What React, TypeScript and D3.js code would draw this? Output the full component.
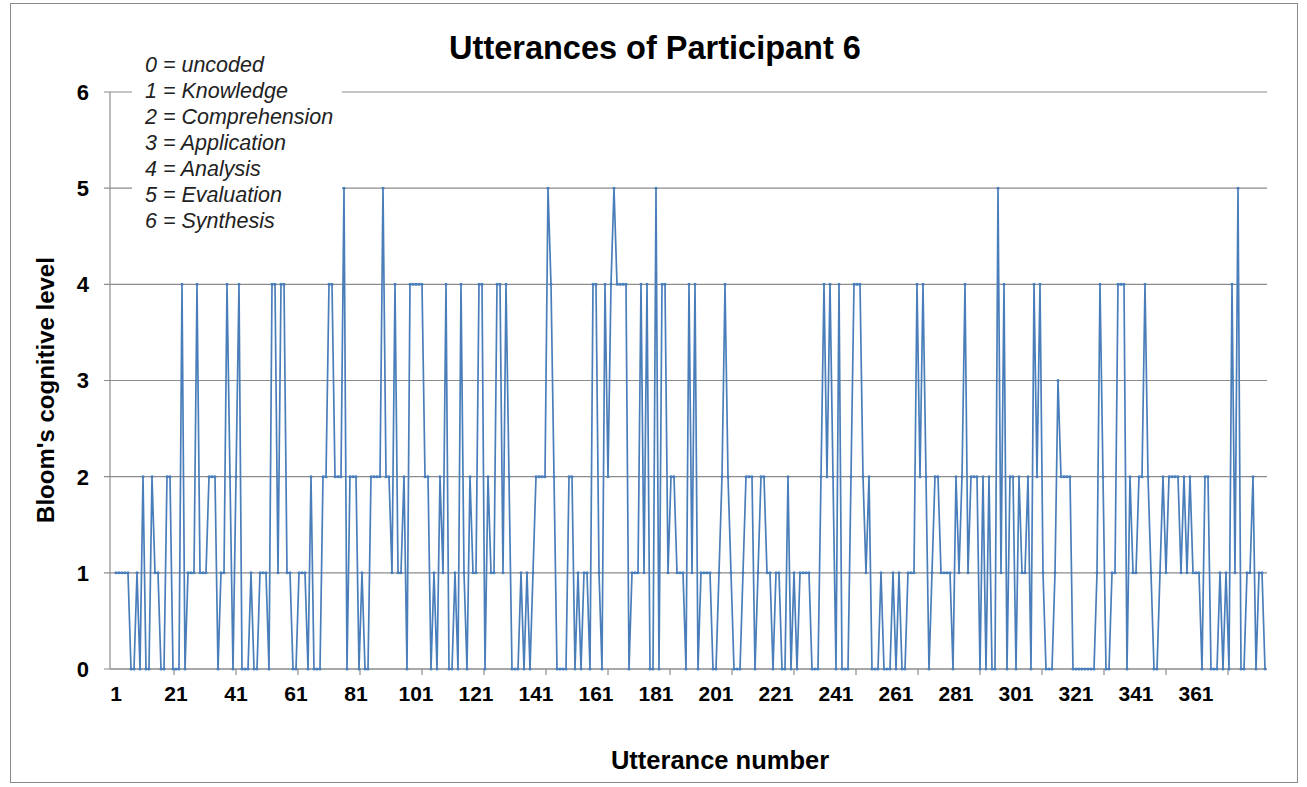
import React from 'react'
import * as d3 from 'd3'

// Bloom level per utterance in blocks
const levels001to100 = [
  1, 1, 1, 1, 1, 0, 0, 1, 0, 2,
  0, 0, 2, 1, 1, 0, 0, 2, 2, 0,
  0, 0, 4, 0, 1, 1, 1, 4, 1, 1,
  1, 2, 2, 2, 0, 1, 1, 4, 2, 0,
  2, 4, 0, 0, 0, 1, 0, 0, 1, 1,
  1, 0, 4, 4, 1, 4, 4, 1, 1, 0,
  0, 1, 1, 1, 0, 2, 0, 0, 0, 2,
  2, 4, 4, 2, 2, 2, 5, 0, 2, 2,
  2, 0, 1, 0, 0, 2, 2, 2, 2, 5,
  2, 2, 1, 4, 1, 1, 2, 0, 4, 4,
]
const levels101to200 = [
  4, 4, 4, 2, 2, 0, 1, 0, 2, 1,
  4, 0, 0, 1, 0, 4, 1, 0, 2, 1,
  1, 4, 4, 0, 2, 1, 1, 4, 4, 1,
  4, 2, 0, 0, 0, 1, 0, 1, 0, 1,
  2, 2, 2, 2, 5, 4, 2, 0, 0, 0,
  0, 2, 2, 0, 1, 0, 1, 1, 0, 4,
  4, 1, 0, 4, 2, 4, 5, 4, 4, 4,
  4, 0, 1, 1, 1, 4, 1, 4, 0, 0,
  5, 0, 4, 4, 1, 2, 2, 1, 1, 1,
  0, 4, 1, 4, 0, 1, 1, 1, 1, 0,
]
const levels201to300 = [
  0, 1, 2, 4, 2, 1, 0, 0, 0, 1,
  2, 2, 2, 0, 1, 2, 2, 1, 1, 0,
  1, 1, 0, 0, 2, 0, 1, 0, 1, 1,
  1, 1, 0, 0, 0, 2, 4, 2, 4, 2,
  0, 4, 0, 0, 0, 2, 4, 4, 4, 2,
  1, 2, 0, 0, 0, 1, 0, 0, 0, 1,
  0, 1, 0, 0, 1, 1, 1, 4, 2, 4,
  2, 0, 1, 2, 2, 1, 1, 1, 1, 0,
  2, 1, 2, 4, 1, 2, 2, 2, 0, 2,
  0, 2, 0, 0, 5, 1, 4, 0, 2, 2,
]
const levels301to384 = [
  0, 2, 1, 1, 2, 0, 4, 2, 4, 1,
  0, 0, 0, 1, 3, 2, 2, 2, 2, 0,
  0, 0, 0, 0, 0, 0, 0, 1, 4, 2,
  0, 0, 1, 1, 4, 4, 4, 0, 2, 1,
  1, 2, 2, 4, 2, 1, 0, 0, 1, 2,
  1, 2, 2, 2, 2, 1, 2, 1, 2, 1,
  1, 1, 0, 2, 2, 0, 0, 0, 1, 0,
  1, 0, 4, 1, 5, 0, 0, 1, 1, 2,
  0, 1, 1, 0,
]

const levelTicks = [0, 1, 2, 3, 4, 5, 6]
const utteranceLabels = [1, 21, 41, 61, 81, 101, 121, 141, 161, 181, 201, 221, 241, 261, 281, 301, 321, 341, 361]
const legendLines = [
  '0 = uncoded',
  '1 = Knowledge',
  '2 = Comprehension',
  '3 = Application',
  '4 = Analysis',
  '5 = Evaluation',
  '6 = Synthesis',
]

const levels = [...levels001to100, ...levels101to200, ...levels201to300, ...levels301to384]
const points = levels.map((v, i) => ({ n: i + 1, v }))

const W = 1307
const H = 787
const font = '"Liberation Sans", Arial, sans-serif'

export default function App () {
  const left = 110
  const right = 1267
  const top = 92
  const bottom = 669

  const x = d3.scaleLinear().domain([1, levels.length]).range([116, 1265])
  const y = d3.scaleLinear().domain([0, 6]).range([bottom, top])

  const line = d3.line<{ n: number, v: number }>()
    .x(d => x(d.n))
    .y(d => y(d.v))

  // tick marks sit between label groups
  const tickMarks = d3.range(0, 19).map(k => 174 + k * 62).filter(t => t < right)

  return (
    <svg width={W} height={H} style={{ position: 'absolute', left: 0, top: 0, background: '#fff' }}>
      <rect x={10.5} y={3.5} width={1287} height={779} fill="#fff" stroke="#8a8a8a" />

      {/* gridlines */}
      {levelTicks.map(t => (
        <line key={t} x1={left - 6} x2={right} y1={y(t)} y2={y(t)} stroke="#8c8c8c" strokeWidth={1.2} />
      ))}

      {/* axes */}
      <line x1={left} x2={left} y1={top} y2={bottom} stroke="#8c8c8c" strokeWidth={1.2} />
      <line x1={left} x2={right} y1={bottom} y2={bottom} stroke="#8c8c8c" strokeWidth={1.2} />
      {tickMarks.map(t => (
        <line key={t} x1={t} x2={t} y1={bottom} y2={bottom + 6} stroke="#8c8c8c" strokeWidth={1.2} />
      ))}

      {/* series */}
      <path d={line(points) ?? ''} fill="none" stroke="#4a7ebb" strokeWidth={1.7} strokeLinejoin="round" />
      {points.map(p => (
        <circle key={p.n} cx={x(p.n)} cy={y(p.v)} r={1.5} fill="#4a7ebb" />
      ))}

      {/* y labels */}
      {levelTicks.map(t => (
        <text key={t} x={89} y={y(t)} dy="0.36em" textAnchor="end" fontFamily={font} fontWeight="bold" fontSize={22}>{t}</text>
      ))}

      {/* x labels */}
      {utteranceLabels.map(n => (
        <text key={n} x={x(n)} y={701} textAnchor="middle" fontFamily={font} fontWeight="bold" fontSize={21}>{n}</text>
      ))}

      {/* legend box */}
      <rect x={132} y={50} width={210} height={186} fill="#fff" />
      {legendLines.map((s, i) => (
        <text key={s} x={145} y={72 + i * 26} fontFamily={font} fontStyle="italic" fontSize={21.5} fill="#222">{s}</text>
      ))}

      <text x={655} y={59} textAnchor="middle" fontFamily={font} fontWeight="bold" fontSize={32.5}>Utterances of Participant 6</text>
      <text x={720} y={769} textAnchor="middle" fontFamily={font} fontWeight="bold" fontSize={25.5}>Utterance number</text>
      <text transform={`translate(54, 390) rotate(-90)`} textAnchor="middle" fontFamily={font} fontWeight="bold" fontSize={24}>Bloom's cognitive level</text>
    </svg>
  )
}
